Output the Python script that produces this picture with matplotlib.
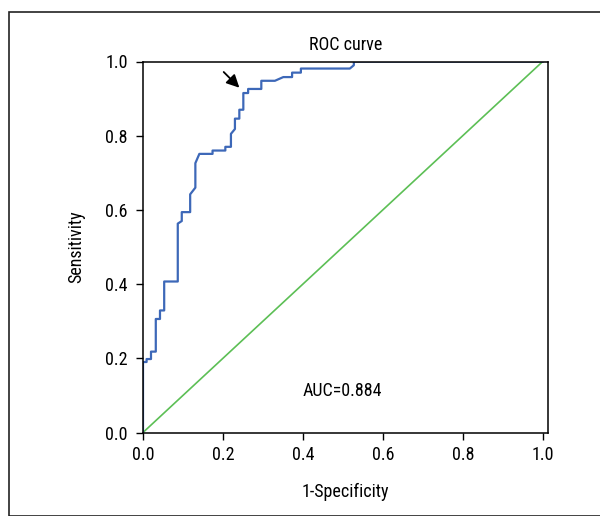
import matplotlib
matplotlib.use("Agg")
import matplotlib.pyplot as plt
from matplotlib import font_manager
from matplotlib.patches import Rectangle

# pick a narrow sans if one is installed
names = {f.name for f in font_manager.fontManager.ttflist}
narrow = [n for n in ['Roboto Condensed', 'Liberation Sans Narrow', 'Open Sans Condensed',
                      'Noto Sans Condensed', 'DejaVu Sans Condensed'] if n in names]
if narrow:
    plt.rcParams['font.family'] = [narrow[0], 'DejaVu Sans']
else:
    plt.rcParams['font.family'] = ['DejaVu Sans']
    plt.rcParams['font.stretch'] = 'condensed'

# ROC curve (1-specificity, sensitivity)
fpr = [0.0, 0.0, 0.009, 0.009, 0.02, 0.02, 0.032, 0.032, 0.0425, 0.0425,
       0.053, 0.053, 0.087, 0.087, 0.097, 0.097, 0.118, 0.118, 0.131, 0.131,
       0.141, 0.174, 0.174, 0.206, 0.206, 0.22, 0.22, 0.23, 0.23, 0.241,
       0.241, 0.251, 0.251, 0.263, 0.263, 0.296, 0.296, 0.33, 0.351, 0.373,
       0.373, 0.395, 0.395, 0.5175, 0.5275, 0.5275, 1.0]
tpr = [0.0, 0.19, 0.19, 0.198, 0.198, 0.218, 0.218, 0.306, 0.306, 0.329,
       0.329, 0.407, 0.407, 0.563, 0.570, 0.594, 0.594, 0.642, 0.660, 0.726,
       0.751, 0.751, 0.760, 0.760, 0.770, 0.770, 0.805, 0.818, 0.846, 0.846,
       0.870, 0.870, 0.915, 0.915, 0.926, 0.926, 0.948, 0.948, 0.958, 0.958,
       0.970, 0.970, 0.981, 0.981, 0.99, 1.0, 1.0]
ref_line = [0.0, 1.0]
ticks = [0.0, 0.2, 0.4, 0.6, 0.8, 1.0]
auc_text = 'AUC=0.884'

fig = plt.figure(figsize=(6, 5.16), dpi=100)
ax = fig.add_axes([143 / 600, 1 - 432.5 / 516, 404.5 / 600, (432.5 - 61.5) / 516])

# outer frame of the figure panel
fig.patches.append(Rectangle((9 / 600, 0), 1.2, 1 - 11.5 / 516, transform=fig.transFigure,
                             fill=False, edgecolor='#222222', linewidth=1.2))

ax.plot(ref_line, ref_line, color='#5cbf55', linewidth=1.2)
ax.plot(fpr, tpr, color='#3d68b8', linewidth=1.6)

ax.annotate('', xy=(0.246, 0.924), xytext=(0.197, 0.977),
            arrowprops=dict(arrowstyle='-|>', color='black', lw=1.3, mutation_scale=19))

ax.text(0.4975, 0.111, auc_text, ha='center', va='center', fontsize=13)

ax.set_xlim(0, 1.012)
ax.set_ylim(0, 1.0)
ax.set_xticks(ticks)
ax.set_yticks(ticks)
ax.set_xticklabels([f'{t:.1f}' for t in ticks])
ax.set_yticklabels([f'{t:.1f}' for t in ticks])
ax.tick_params(direction='out', length=5, width=1, labelsize=13, colors='black')
ax.tick_params(axis='x', pad=5)
ax.tick_params(axis='y', pad=6)
for s in ax.spines.values():
    s.set_linewidth(1.1)

ax.set_title('ROC curve', fontsize=13, pad=8)
ax.set_xlabel('1-Specificity', fontsize=13, labelpad=13)
ax.set_ylabel('Sensitivity', fontsize=13, labelpad=14)

fig.savefig('out.png', dpi=100)
